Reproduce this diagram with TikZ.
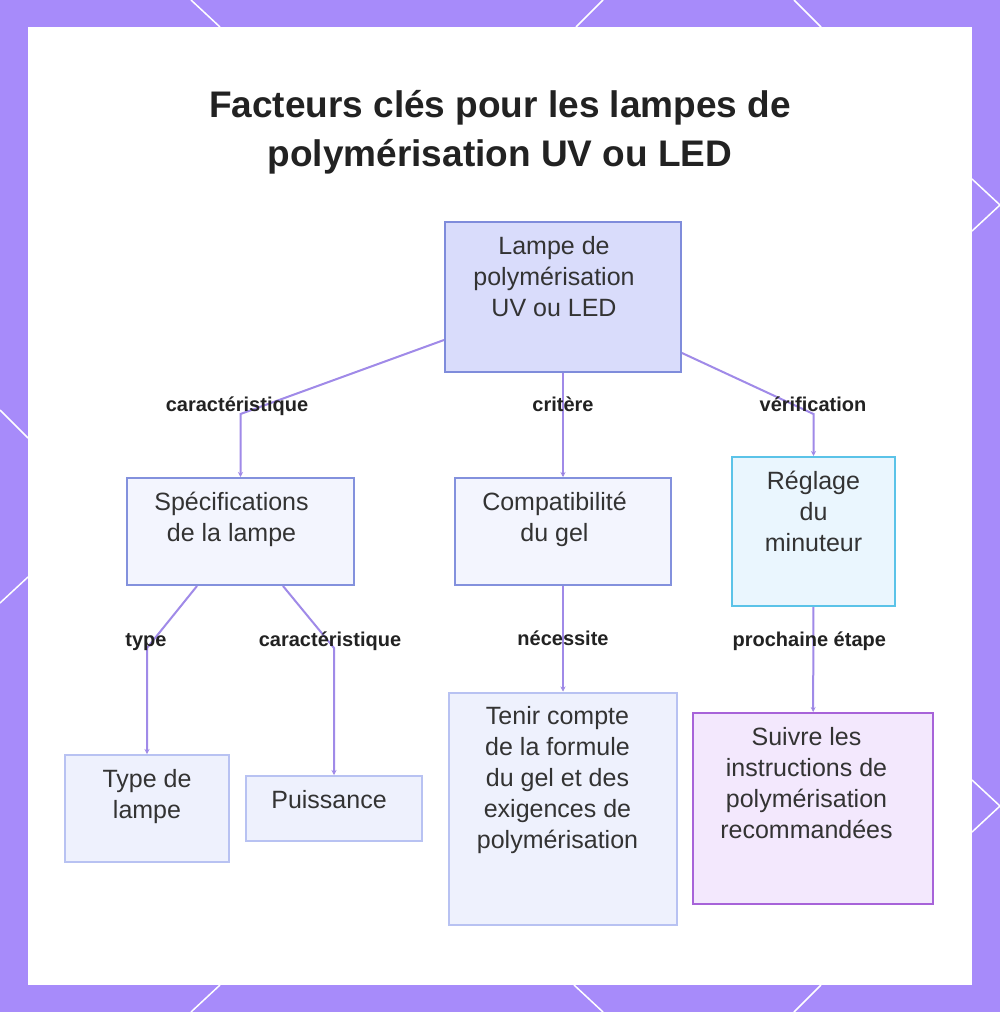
\documentclass[tikz,border=0pt]{standalone}
\usepackage{fontspec}
\setmainfont{Liberation Sans}
\usetikzlibrary{positioning,arrows.meta}

\definecolor{framebg}{HTML}{A78BFA}
\definecolor{linkc}{HTML}{A08AE8}
\definecolor{ink}{HTML}{333333}
\definecolor{lblink}{HTML}{222222}
\definecolor{rootfill}{HTML}{D9DCFB}
\definecolor{rootdraw}{HTML}{7F8CDB}
\definecolor{specfill}{HTML}{F3F5FE}
\definecolor{specdraw}{HTML}{8391DD}
\definecolor{leaffill}{HTML}{EEF1FD}
\definecolor{leafdraw}{HTML}{B8C2F2}
\definecolor{timerfill}{HTML}{EAF6FE}
\definecolor{timerdraw}{HTML}{5BC3E8}
\definecolor{followfill}{HTML}{F3E8FD}
\definecolor{followdraw}{HTML}{A763D9}

\tikzset{
  box/.style={rectangle, draw, line width=2pt},
  rootbox/.style={box, fill=rootfill, draw=rootdraw},
  specbox/.style={box, fill=specfill, draw=specdraw},
  leafbox/.style={box, fill=leaffill, draw=leafdraw},
  timerbox/.style={box, fill=timerfill, draw=timerdraw},
  followbox/.style={box, fill=followfill, draw=followdraw},
  txt/.style={inner sep=0pt, align=center, text=ink, anchor=north,
    font=\fontsize{25}{31}\selectfont},
  lbl/.style={inner sep=0pt, text=lblink, font=\bfseries\fontsize{20}{24}\selectfont},
  link/.style={draw=linkc, line width=2pt, -{Stealth[length=5pt,width=5pt]}},
}

\begin{document}
\begin{tikzpicture}[x=1pt,y=-1pt,node distance=100pt,on grid]
		\useasboundingbox (0,0) rectangle (1000,1012);
		% frame
		\fill[framebg] (0,0) rectangle (1000,1012);
		\draw[white, line width=1.5pt]
			(191,0) -- (220,27)  (603,0) -- (576,27)  (794,0) -- (821,27)
			(220,985) -- (191,1012)  (574,985) -- (603,1012)  (821,985) -- (794,1012)
			(972,179) -- (1000,205) -- (972,231)
			(972,780) -- (1000,806) -- (972,832)
			(0,410) -- (28,438)  (28,577) -- (0,603);
		\fill[white] (28,27) rectangle (972,985);

		\node[inner sep=0pt, align=center, text=lblink, anchor=north,
			font=\bfseries\fontsize{37}{49}\selectfont] (title) at (500,90)
			{Facteurs clés pour les lampes de\\polymérisation UV ou LED};

		% boxes
		\node[rootbox, minimum width=236pt, minimum height=150pt] 	(lamp) 	at (563,297) 	{};
		\node[specbox, minimum width=216pt, minimum height=107pt] 	(gel) 	[below=234.5pt of lamp] 	{};
		\node[specbox, minimum width=227pt, minimum height=107pt] 	(spec) 	[left=322.5pt of gel] 	{};
		\node[timerbox, minimum width=163pt, minimum height=149pt] 	(timer) 	[right=250.5pt of gel] 	{};
		\node[leafbox, minimum width=228pt, minimum height=232pt] 	(formula) 	[below=277pt of gel] 	{};
		\node[leafbox, minimum width=164pt, minimum height=107pt] 	(typ) 	[left=416pt of formula] 	{};
		\node[leafbox, minimum width=176pt, minimum height=65pt] 	(power) 	[left=229pt of formula] 	{};
		\node[followbox, minimum width=240pt, minimum height=191pt] 	(follow) 	[right=250pt of formula] 	{};

		% texts
		\node[txt, on grid=false] (lamp_t) [below=15pt of lamp.north, xshift=-9pt] {Lampe de\\polymérisation\\UV ou LED};
		\node[txt, on grid=false] (spec_t) [below=15pt of spec.north, xshift=-9pt] {Spécifications\\de la lampe};
		\node[txt, on grid=false] (gel_t) [below=15pt of gel.north, xshift=-8.5pt] {Compatibilité\\du gel};
		\node[txt, on grid=false] (timer_t) [below=15pt of timer.north] {Réglage\\du\\minuteur};
		\node[txt, on grid=false] (typ_t) [below=15pt of typ.north] {Type de\\lampe};
		\node[txt, on grid=false] (power_t) [below=15pt of power.north, xshift=-5pt] {Puissance};
		\node[txt, on grid=false] (formula_t) [below=15pt of formula.north, xshift=-5.5pt] {Tenir compte\\de la formule\\du gel et des\\exigences de\\polymérisation};
		\node[txt, on grid=false] (follow_t) [below=15pt of follow.north, xshift=-6.5pt] {Suivre les\\instructions de\\polymérisation\\recommandées};

		% connectors
		\coordinate (b_spec) at (240.5,414);
		\coordinate (b_timer) at (813.5,414);
		\coordinate (b_typ) at (147,648);
		\coordinate (b_power) at (334,648);

		\draw[link] ([yshift=-43pt]lamp.west) -- (b_spec) -- (spec);
		\draw[link] ([yshift=-56pt]lamp.east) -- (b_timer) -- (timer);
		\draw[link] ([xshift=-43.5pt]spec.south) -- (b_typ) -- (typ);
		\draw[link] ([xshift=42.5pt]spec.south) -- (b_power) -- (power);
		\path[link]
			(lamp) 	edge 	node[lbl, pos=.3] 	{critère} 	(gel)
			(gel) 	edge 	node[lbl, pos=.5] 	{nécessite} 	(formula)
			(timer) 	edge 	node[lbl, pos=.325, xshift=-4pt] 	{prochaine étape} 	(follow);

		\node[lbl, anchor=base] (l_spec) at (237,411) {caractéristique};
		\node[lbl, anchor=base] (l_timer) at (813,411) {vérification};
		\node[lbl, anchor=base] (l_typ) at (146,646) {type};
		\node[lbl, anchor=base] (l_power) at (330,646) {caractéristique};
	\end{tikzpicture}
\end{document}
